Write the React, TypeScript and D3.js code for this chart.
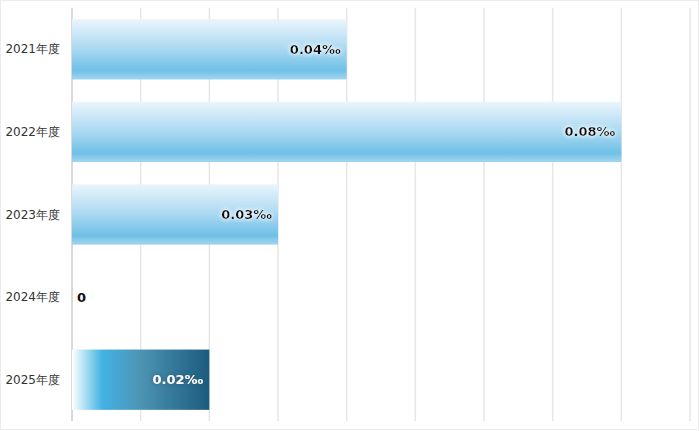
import React from "react";
import * as d3 from "d3";

const categories = ["2021年度", "2022年度", "2023年度", "2024年度", "2025年度"];
const values = [0.04, 0.08, 0.03, 0, 0.02];
const labels = ["0.04‰", "0.08‰", "0.03‰", "0", "0.02‰"];
const xTicks = [0, 0.01, 0.02, 0.03, 0.04, 0.05, 0.06, 0.07, 0.08, 0.09];

const W = 700, H = 431;
const left = 72, right = 690, top = 8, bottom = 421;

export default function App() {
  const x = d3.scaleLinear().domain([0, 0.09]).range([left, right]);
  const y = d3.scaleBand().domain(categories).range([top, bottom]).paddingInner(0.27).paddingOuter(0.135);
  const font = "'DejaVu Sans', Verdana, sans-serif";
  return (
    <svg width={W} height={H} style={{ position: "absolute", left: 0, top: 0 }}>
      <defs>
        <linearGradient id="gBlue" x1="0" y1="0" x2="0" y2="1">
          <stop offset="0" stopColor="#eaf5fc" />
          <stop offset="0.5" stopColor="#a9d8f1" />
          <stop offset="0.85" stopColor="#6fc0e7" />
          <stop offset="1" stopColor="#a3d5f0" />
        </linearGradient>
        <linearGradient id="gDark" x1="0" y1="0" x2="1" y2="0">
          <stop offset="0" stopColor="#ffffff" />
          <stop offset="0.22" stopColor="#42b2e3" />
          <stop offset="0.5" stopColor="#4d94b4" />
          <stop offset="1" stopColor="#1b5b7e" />
        </linearGradient>
        <filter id="haloW" x="-20%" y="-50%" width="140%" height="200%">
          <feGaussianBlur in="SourceAlpha" stdDeviation="2" result="b" />
          <feFlood floodColor="#ffffff" floodOpacity="0.9" />
          <feComposite in2="b" operator="in" result="h" />
          <feMerge><feMergeNode in="h" /><feMergeNode in="h" /><feMergeNode in="SourceGraphic" /></feMerge>
        </filter>
        <filter id="haloD" x="-20%" y="-50%" width="140%" height="200%">
          <feGaussianBlur in="SourceAlpha" stdDeviation="2" result="b" />
          <feFlood floodColor="#2a4a5c" floodOpacity="0.8" />
          <feComposite in2="b" operator="in" result="h" />
          <feMerge><feMergeNode in="h" /><feMergeNode in="SourceGraphic" /></feMerge>
        </filter>
      </defs>
      <rect x={0.5} y={0.5} width={W - 2} height={H - 2} fill="#fff" stroke="#ececec" />
      {xTicks.map((t, i) => (
        <line key={t} x1={x(t)} x2={x(t)} y1={top} y2={bottom} stroke={i === 0 ? "#d9d9d9" : "#e6e6e6"} strokeWidth={i === 0 ? 2 : 1.5} />
      ))}
      {categories.map((c, i) => {
        const yy = y(c)!;
        const bw = x(values[i]) - x(0);
        const dark = i === 4;
        const cy = yy + y.bandwidth() / 2;
        return (
          <g key={c}>
            <text x={60} y={cy} textAnchor="end" dominantBaseline="central" fontFamily={font} fontSize={12} fill="#333">{c}</text>
            {bw > 0 && <rect x={x(0)} y={yy} width={bw} height={y.bandwidth()} fill={dark ? "url(#gDark)" : "url(#gBlue)"} />}
            <text
              x={bw > 0 ? x(values[i]) - 6 : x(0) + 5}
              y={cy}
              textAnchor={bw > 0 ? "end" : "start"}
              dominantBaseline="central"
              fontFamily={font}
              fontSize={13}
              fontWeight="bold"
              fill={dark ? "#ffffff" : "#111"}
              filter={bw > 0 ? (dark ? "url(#haloD)" : "url(#haloW)") : undefined}
            >{labels[i]}</text>
          </g>
        );
      })}
    </svg>
  );
}
